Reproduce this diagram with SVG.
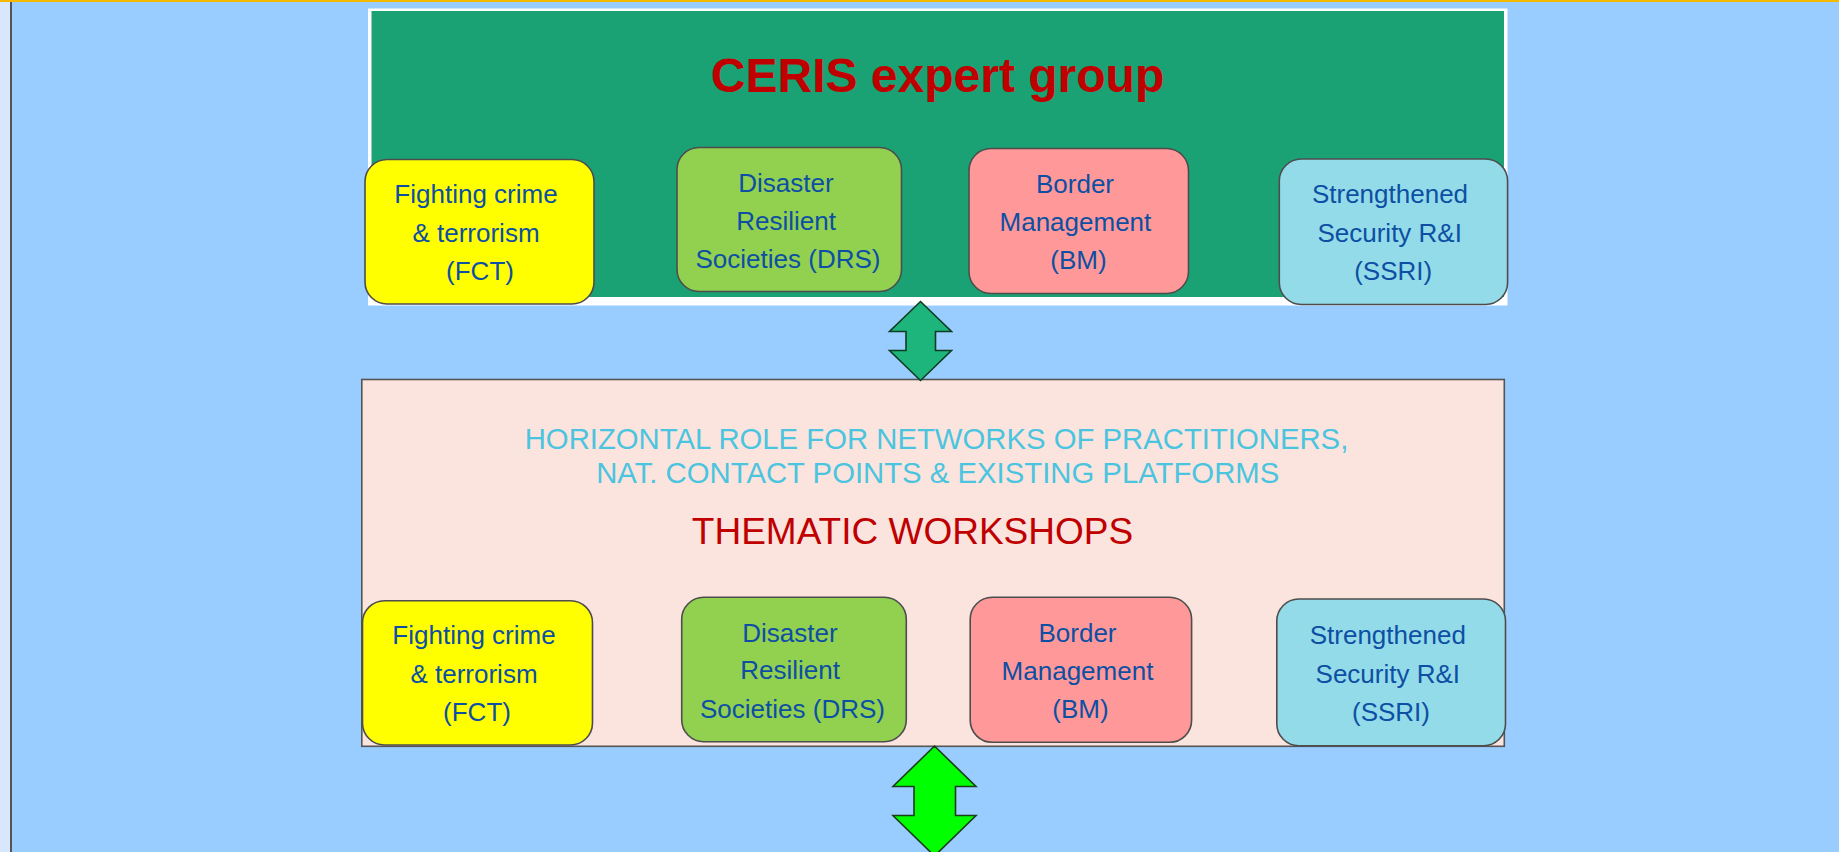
<svg xmlns="http://www.w3.org/2000/svg" width="1839" height="852" viewBox="0 0 1839 852">
<style>
.box{stroke:#4d4d4d;stroke-width:1.6}
.t{font-family:"Liberation Sans",Arial,sans-serif;font-size:26px;fill:#0d4fa3;text-anchor:middle}
.h{font-family:"Liberation Sans",Arial,sans-serif;font-size:29.3px;fill:#4bc4df;text-anchor:middle}
.arrow{stroke-width:1.6;stroke-linejoin:miter}
</style>
<rect x="0" y="0" width="1839" height="852" fill="#99ccff"/>
<rect x="0" y="0" width="10" height="852" fill="#d8e7fb"/>
<rect x="10" y="0" width="2" height="852" fill="#555555"/>
<rect x="0" y="0" width="1839" height="2" fill="#f5b800"/>

<g id="ceris-group">
  <rect x="368" y="8.5" width="1139.5" height="297" fill="#ffffff"/>
  <rect x="371.5" y="11" width="1132.5" height="286" fill="#1aa274"/>
  <text x="937.5" y="91.5" font-family="'Liberation Sans',Arial,sans-serif" font-size="48" font-weight="bold" fill="#c00000" text-anchor="middle">CERIS expert group</text>
</g>
<g id="top-fct">
  <rect class="box" x="365" y="159.5" width="229" height="144.5" rx="22" fill="#ffff00"/>
  <text class="t" x="476" y="203.3">Fighting crime</text>
  <text class="t" x="476" y="241.7">&amp; terrorism</text>
  <text class="t" x="480" y="280">(FCT)</text>
</g>
<g id="top-drs">
  <rect class="box" x="677" y="147.5" width="224.5" height="144" rx="22" fill="#92d050"/>
  <text class="t" x="786" y="191.7">Disaster</text>
  <text class="t" x="786" y="230">Resilient</text>
  <text class="t" x="788" y="268.3">Societies (DRS)</text>
</g>
<g id="top-bm">
  <rect class="box" x="969" y="148.5" width="219.5" height="145" rx="22" fill="#ff9999"/>
  <text class="t" x="1075" y="193.3">Border</text>
  <text class="t" x="1075.4" y="231">Management</text>
  <text class="t" x="1078.5" y="269.3">(BM)</text>
</g>
<g id="top-ssri">
  <rect class="box" x="1279.3" y="159" width="228.3" height="145.5" rx="22" fill="#93dbe9"/>
  <text class="t" x="1390" y="203.3">Strengthened</text>
  <text class="t" x="1389.7" y="241.7">Security R&amp;I</text>
  <text class="t" x="1393.2" y="280">(SSRI)</text>
</g>

<g id="workshops-group">
  <rect x="361.8" y="379.5" width="1142.5" height="366.8" fill="#fbe4de" stroke="#555555" stroke-width="1.6"/>
  <text class="h" x="936.5" y="448.5">HORIZONTAL ROLE FOR NETWORKS OF PRACTITIONERS,</text>
  <text class="h" x="937.7" y="482.7">NAT. CONTACT POINTS &amp; EXISTING PLATFORMS</text>
  <text x="912.5" y="544" font-family="'Liberation Sans',Arial,sans-serif" font-size="37" fill="#c00000" text-anchor="middle">THEMATIC WORKSHOPS</text>
</g>
<g id="bottom-fct">
  <rect class="box" x="362.5" y="600.7" width="230" height="144.3" rx="22" fill="#ffff00"/>
  <text class="t" x="474" y="644.3">Fighting crime</text>
  <text class="t" x="474" y="682.7">&amp; terrorism</text>
  <text class="t" x="477" y="720.7">(FCT)</text>
</g>
<g id="bottom-drs">
  <rect class="box" x="681.7" y="597.3" width="224.6" height="144.4" rx="22" fill="#92d050"/>
  <text class="t" x="790" y="641.7">Disaster</text>
  <text class="t" x="790" y="679.3">Resilient</text>
  <text class="t" x="792.5" y="717.7">Societies (DRS)</text>
</g>
<g id="bottom-bm">
  <rect class="box" x="970.2" y="597.3" width="221.4" height="145" rx="22" fill="#ff9999"/>
  <text class="t" x="1077.5" y="641.7">Border</text>
  <text class="t" x="1077.5" y="680">Management</text>
  <text class="t" x="1080.5" y="718.3">(BM)</text>
</g>
<g id="bottom-ssri">
  <rect class="box" x="1276.8" y="599" width="228.7" height="146.7" rx="22" fill="#93dbe9"/>
  <text class="t" x="1387.8" y="644">Strengthened</text>
  <text class="t" x="1387.8" y="682.7">Security R&amp;I</text>
  <text class="t" x="1391" y="720.7">(SSRI)</text>
</g>

<g id="connectors">
  <polygon class="arrow" fill="#1db57b" stroke="#0d3d22" points="920.5,301.5 951.5,331.5 935.5,331.5 935.5,350.5 951.5,350.5 920.5,380.5 889.5,350.5 906,350.5 906,331.5 889.5,331.5"/>
  <polygon class="arrow" fill="#00ff00" stroke="#1a3d1a" points="934.5,746 976,786.5 955.5,786.5 955.5,815.5 976,815.5 934.5,856 893,815.5 914,815.5 914,786.5 893,786.5"/>
</g>
</svg>
